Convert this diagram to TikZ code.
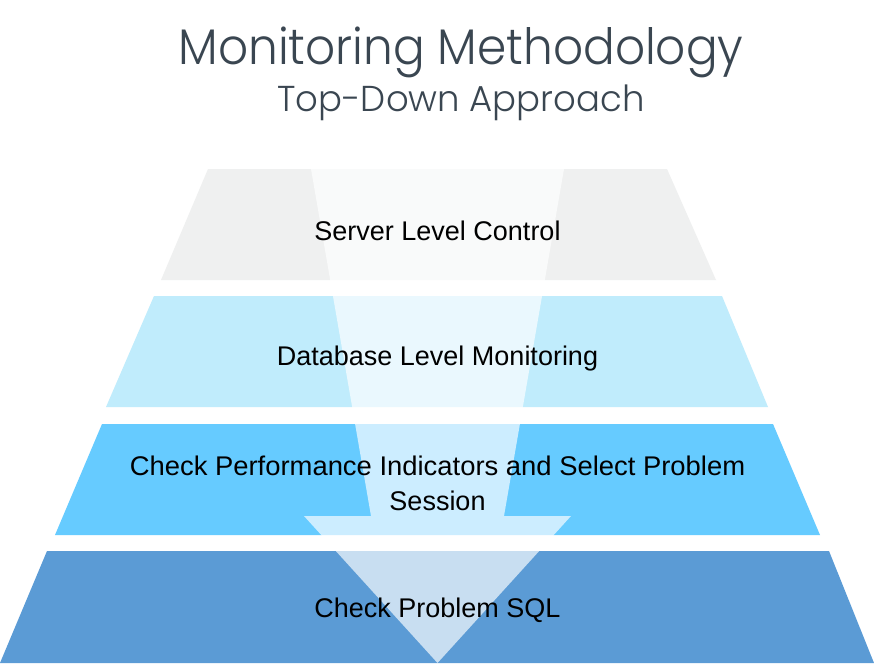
\documentclass[tikz,border=0pt]{standalone}
\usepackage{fontspec}
\setmainfont{Liberation Sans}
\IfFontExistsTF{Poppins Light}{\newfontfamily\titlefont{Poppins Light}}{\newfontfamily\titlefont{Poppins}}
\definecolor{layerA}{HTML}{EFF0F0}
\definecolor{layerB}{HTML}{C0ECFC}
\definecolor{layerC}{HTML}{66CBFF}
\definecolor{layerD}{HTML}{5B9BD5}
\definecolor{titlecol}{HTML}{3A4651}
\tikzset{
  layer/.style={draw=none},
  lbl/.style={anchor=base, inner sep=0pt, font=\fontsize{27}{34}\selectfont, text=black, align=center},
}
\begin{document}
\begin{tikzpicture}[x=1pt,y=-1pt]
\useasboundingbox (0,0) rectangle (874,663);
\fill[white] (0,0) rectangle (874,663);
% layers
\fill[layerA] (208,169) -- (667,169) -- (716,280) -- (161,280) -- cycle;
\fill[layerB] (154,296) -- (722,296) -- (768,407) -- (106,407) -- cycle;
\fill[layerC] (102,424) -- (773,424) -- (820,535) -- (55,535) -- cycle;
\fill[layerD] (47,551) -- (829,551) -- (874,663) -- (0,663) -- cycle;
% arrow
\fill[white, fill opacity=0.67] (311,169) -- (564,169) -- (504,516) -- (571,516) -- (437.5,663) -- (304,516) -- (371,516) -- cycle;
% titles
\node[anchor=base, inner sep=0pt, text=titlecol, font=\titlefont\fontsize{50}{55}\selectfont] (title) at (461,65) {\scalebox{0.94}[1]{Monitoring Methodology}};
\node[anchor=base, inner sep=0pt, text=titlecol, font=\titlefont\fontsize{36}{40}\selectfont] (subtitle) at (461,111.5) {\scalebox{0.985}[1]{Top-Down Approach}};
% labels
\node[lbl] (l1) at (437.5,240) {Server Level Control};
\node[lbl] (l2) at (437.5,365) {Database Level Monitoring};
\node[lbl] (l3) at (437.5,475) {\scalebox{1.015}[1]{Check Performance Indicators and Select Problem}};
\node[lbl] (l3b) at (437.5,510) {Session};
\node[lbl] (l4) at (437.5,617) {Check Problem SQL};
\end{tikzpicture}
\end{document}
